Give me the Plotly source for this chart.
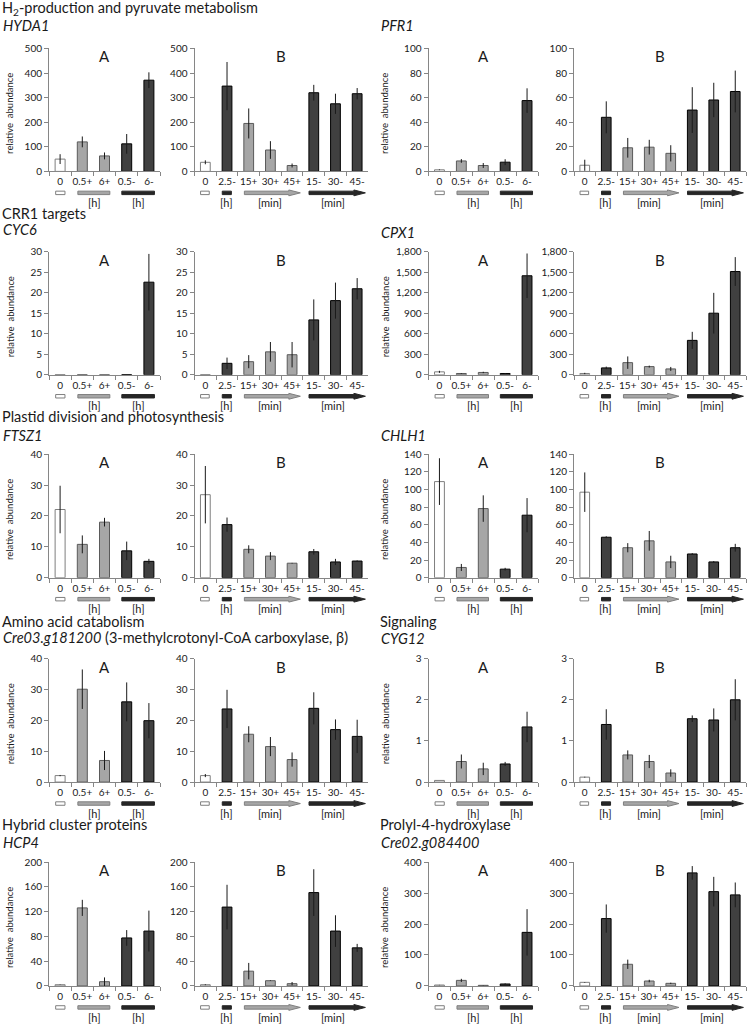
import plotly.graph_objects as go

W, H = 750, 1028

# ---------------- data ----------------
cats_A = ["0", "0.5+", "6+", "0.5-", "6-"]
cats_B = ["0", "2.5-", "15+", "30+", "45+", "15-", "30-", "45-"]

hyda1_A = [50, 120, 63, 112, 371]
hyda1_A_err = [20, 22, 14, 40, 32]
hyda1_B = [37, 347, 195, 87, 24, 320, 275, 316]
hyda1_B_err = [8, 98, 61, 36, 8, 32, 41, 23]

pfr1_A = [1.3, 8.5, 4.8, 7.5, 57.6]
pfr1_A_err = [0.3, 1.5, 2.0, 2.4, 10]
pfr1_B = [5, 44, 19.2, 19.7, 14.7, 49.9, 58.1, 65]
pfr1_B_err = [4.5, 13, 8, 6, 6.6, 18.6, 14, 17]

cyc6_A = [0.05, 0.02, 0.01, 0.03, 22.6]
cyc6_A_err = [0, 0, 0, 0, 6.9]
cyc6_B = [0.05, 2.8, 3.2, 5.6, 4.9, 13.4, 18.1, 21.0]
cyc6_B_err = [0, 1.4, 1.6, 2.4, 3.1, 5.0, 4.4, 2.6]

cpx1_A = [43, 19, 34, 19, 1450]
cpx1_A_err = [15, 5, 10, 7, 326]
cpx1_B = [19, 101, 178, 120, 86, 504, 902, 1512]
cpx1_B_err = [10, 19, 91, 14, 29, 125, 298, 211]

ftsz1_A = [22.1, 10.8, 18.0, 8.7, 5.3]
ftsz1_A_err = [7.7, 2.9, 1.4, 3.0, 0.8]
ftsz1_B = [26.9, 17.2, 9.2, 7.0, 4.7, 8.4, 5.1, 5.4]
ftsz1_B_err = [9.3, 2.3, 1.3, 1.3, 0.1, 0.9, 1.0, 0.2]

chlh1_A = [109, 11.6, 78.4, 9.7, 70.9]
chlh1_A_err = [26.5, 4, 15, 1.5, 19.4]
chlh1_B = [97, 45.9, 34, 41.8, 17.9, 26.9, 17.9, 34]
chlh1_B_err = [22.4, 1.1, 5.2, 11.2, 7, 1, 1, 4.4]

cre03_A = [2.1, 30.1, 7.0, 26.0, 19.9]
cre03_A_err = [0.2, 6.4, 3.1, 6.3, 5.7]
cre03_B = [2.1, 23.7, 15.5, 11.5, 7.3, 23.9, 17.0, 14.8]
cre03_B_err = [0.5, 6.2, 2.6, 3.1, 2.3, 5.2, 3.3, 5.4]

cyg12_A = [0.04, 0.5, 0.32, 0.44, 1.34]
cyg12_A_err = [0, 0.17, 0.15, 0.05, 0.37]
cyg12_B = [0.12, 1.4, 0.66, 0.5, 0.22, 1.54, 1.51, 2.0]
cyg12_B_err = [0.01, 0.37, 0.11, 0.16, 0.09, 0.08, 0.28, 0.5]

hcp4_A = [2, 126, 6.9, 77.5, 88.6]
hcp4_A_err = [0.3, 13, 6.9, 12.7, 33]
hcp4_B = [2, 127.3, 23.9, 8.5, 3.7, 150.7, 88.6, 61.5]
hcp4_B_err = [0.7, 36, 13.3, 0.5, 2.7, 37.7, 25.5, 6.4]

cre02_A = [3, 18, 2, 6.4, 173]
cre02_A_err = [0.5, 5, 0.5, 2, 75]
cre02_B = [11.7, 217.5, 70, 16, 8.5, 365, 304.5, 294]
cre02_B_err = [1, 45.6, 15, 4, 2, 22, 47.7, 40]

headings = [
    ("H<sub>2</sub>-production and pyruvate metabolism", None),
    ("CRR1 targets", None),
    ("Plastid division and photosynthesis", None),
    ("Amino acid catabolism", "Signaling"),
    ("Hybrid cluster proteins", "Prolyl-4-hydroxylase"),
]
gene_names = [
    ("<i>HYDA1</i>", "<i>PFR1</i>"),
    ("<i>CYC6</i>", "<i>CPX1</i>"),
    ("<i>FTSZ1</i>", "<i>CHLH1</i>"),
    ("<i>Cre03.g181200</i> (3-methylcrotonyl-CoA carboxylase, β)", "<i>CYG12</i>"),
    ("<i>HCP4</i>", "<i>Cre02.g084400</i>"),
]

# (row, side, values A, err A, values B, err B, ymax, dtick)
genes = [
    (0, "L", hyda1_A, hyda1_A_err, hyda1_B, hyda1_B_err, 500, 100),
    (0, "R", pfr1_A, pfr1_A_err, pfr1_B, pfr1_B_err, 100, 20),
    (1, "L", cyc6_A, cyc6_A_err, cyc6_B, cyc6_B_err, 30, 5),
    (1, "R", cpx1_A, cpx1_A_err, cpx1_B, cpx1_B_err, 1800, 300),
    (2, "L", ftsz1_A, ftsz1_A_err, ftsz1_B, ftsz1_B_err, 40, 10),
    (2, "R", chlh1_A, chlh1_A_err, chlh1_B, chlh1_B_err, 140, 20),
    (3, "L", cre03_A, cre03_A_err, cre03_B, cre03_B_err, 40, 10),
    (3, "R", cyg12_A, cyg12_A_err, cyg12_B, cyg12_B_err, 3, 1),
    (4, "L", hcp4_A, hcp4_A_err, hcp4_B, hcp4_B_err, 200, 40),
    (4, "R", cre02_A, cre02_A_err, cre02_B, cre02_B_err, 400, 100),
]

# ---------------- layout geometry (pixels) ----------------
rows_px = [(42, 166.5), (248, 372.5), (453, 578), (660, 785), (866, 991.5)]
cols_px = {("L", "A"): (49, 160), ("L", "B"): (194.5, 368),
           ("R", "A"): (428.5, 538), ("R", "B"): (574, 746)}
heading_y = [2, 209, 415, 622, 828]
gene_y = [(19, 19), (225, 228), (434, 434), (639, 640), (846, 846)]

FONT = "Lato"
TXT = "#1a1a1a"
AX = "#868686"
WHITE_F, LIGHT_F, DARK_F = "#ffffff", "#a6a6a6", "#404040"


def bar_colors(cats):
    fills, lines = [], []
    for c in cats:
        if c == "0":
            fills.append(WHITE_F); lines.append("#7f7f7f")
        elif c.endswith("+"):
            fills.append(LIGHT_F); lines.append("#5a5a5a")
        else:
            fills.append(DARK_F); lines.append("#000000")
    return fills, lines


fig = go.Figure()
shapes, annotations = [], []
k = 0
for row, side, vA, eA, vB, eB, ymax, dtick in genes:
    top, bot = rows_px[row]
    ph = bot - top
    for panel, cats, vals, errs in (("A", cats_A, vA, eA), ("B", cats_B, vB, eB)):
        k += 1
        l, r = cols_px[(side, panel)]
        sfx = "" if k == 1 else str(k)
        fills, lines = bar_colors(cats)
        fig.add_trace(go.Bar(
            x=cats, y=vals, xaxis="x" + sfx, yaxis="y" + sfx,
            marker=dict(color=fills, line=dict(color=lines, width=1)),
            error_y=dict(type="data", array=errs, visible=True,
                         color="#1a1a1a", thickness=1, width=0),
            showlegend=False, hoverinfo="x+y",
        ))
        fig.layout["xaxis" + sfx] = dict(
            domain=[l / W, r / W], anchor="y" + sfx, type="category",
            categoryorder="array", categoryarray=cats,
            range=[-0.5, len(cats) - 0.5], tickson="boundaries",
            ticks="outside", ticklen=4, tickcolor=AX, showline=True,
            linecolor=AX, linewidth=1, showgrid=False, zeroline=False,
            tickangle=0,
            tickfont=dict(family=FONT, size=10, color=TXT),
            ticklabelstandoff=1,
        )
        fig.layout["yaxis" + sfx] = dict(
            domain=[1 - bot / H, 1 - top / H], anchor="x" + sfx,
            range=[0, ymax], tick0=0, dtick=dtick, tickformat=",",
            ticks="outside", ticklen=4, tickcolor=AX, showline=True,
            linecolor=AX, linewidth=1, showgrid=False, zeroline=False,
            tickfont=dict(family=FONT, size=10, color=TXT),
        )
        xr, yr = "x" + sfx, "y" + sfx + " domain"
        # panel letter
        annotations.append(dict(text=panel, xref="x" + sfx + " domain", yref=yr,
                                x=0.5, y=1 - 8 / ph, yanchor="middle",
                                showarrow=False,
                                font=dict(family=FONT, size=15, color=TXT)))
        yb0, yb1 = -20 / ph, -23.5 / ph
        ym = (yb0 + yb1) / 2
        ylab = -31.5 / ph
        def rect(x0, x1, fill, line):
            shapes.append(dict(type="rect", xref=xr, yref=yr, x0=x0, x1=x1,
                               y0=yb1, y1=yb0, fillcolor=fill,
                               line=dict(color=line, width=1)))
        def arrow(x0, xh, xt, fill, line):
            d = 1.2 / ph
            p = (f"M{x0},{yb0} L{xh},{yb0} L{xh},{yb0 + d} L{xt},{ym} "
                 f"L{xh},{yb1 - d} L{xh},{yb1} L{x0},{yb1} Z")
            shapes.append(dict(type="path", xref=xr, yref=yr, path=p,
                               fillcolor=fill, line=dict(color=line, width=1)))
        def lab(x, t):
            annotations.append(dict(text=t, xref=xr, yref=yr, x=x, y=ylab,
                                    yanchor="middle", showarrow=False,
                                    font=dict(family=FONT, size=11, color=TXT)))
        if panel == "A":
            rect(-0.2, 0.22, "#ffffff", "#7f7f7f")
            rect(0.8, 2.24, "#a6a6a6", "#7f7f7f")
            rect(2.78, 4.25, "#262626", "#262626")
            lab(1.55, "[h]")
            lab(3.52, "[h]")
            # y-axis title
            annotations.append(dict(
                text="relative  abundance", textangle=-90,
                xref="paper", yref="paper",
                x=(10 if side == "L" else 385) / W, xanchor="center",
                y=1 - (top + ph / 2 + 4) / H, yanchor="middle",
                showarrow=False,
                font=dict(family=FONT, size=9.5, color=TXT)))
        else:
            rect(-0.22, 0.18, "#ffffff", "#7f7f7f")
            rect(0.78, 1.2, "#262626", "#262626")
            arrow(1.8, 3.85, 4.38, "#a6a6a6", "#7f7f7f")
            arrow(4.78, 6.85, 7.38, "#262626", "#262626")
            lab(0.97, "[h]")
            lab(2.98, "[min]")
            lab(5.9, "[min]")

# headings and gene names
def txt(t, x, y):
    annotations.append(dict(text=t, xref="paper", yref="paper", x=x / W,
                            y=1 - y / H, xanchor="left", yanchor="middle",
                            showarrow=False, borderpad=0,
                            font=dict(family=FONT, size=14.5, color=TXT)))

for i in range(5):
    hl, hr = headings[i]
    txt(hl, 0.5, heading_y[i])
    if hr:
        txt(hr, 379, heading_y[i])
    gl, gr = gene_names[i]
    txt(gl, 1.5, gene_y[i][0])
    txt(gr, 380, gene_y[i][1])

fig.update_layout(
    width=W, height=H, margin=dict(l=0, r=0, t=0, b=0),
    paper_bgcolor="white", plot_bgcolor="white",
    bargap=0.55, shapes=shapes, annotations=annotations,
    font=dict(family=FONT, color=TXT),
)

fig.write_html("out.html", config={"displayModeBar": False},
               post_script="document.body.style.margin='0px';"
                           "document.body.style.overflow='hidden';")
